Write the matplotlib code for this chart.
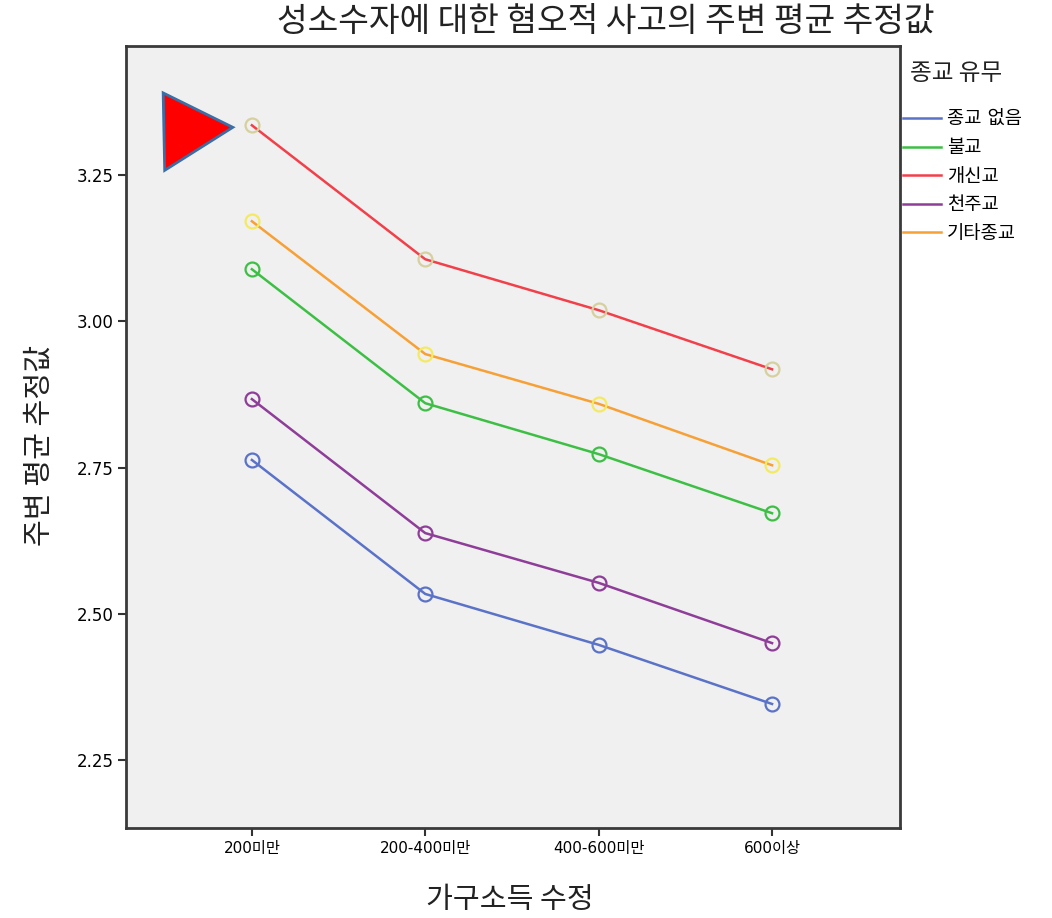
import matplotlib
matplotlib.use("Agg")
import matplotlib.pyplot as plt
from matplotlib.patches import Polygon

# data
income = ['200미만', '200-400미만', '400-600미만', '600이상']
groups = ['종교 없음', '불교', '개신교', '천주교', '기타종교']
no_religion = [2.763, 2.534, 2.447, 2.346]
buddhist = [3.089, 2.860, 2.773, 2.672]
protestant = [3.335, 3.106, 3.019, 2.918]
catholic = [2.867, 2.638, 2.553, 2.450]
other = [3.171, 2.944, 2.859, 2.754]
yticks = [2.25, 2.50, 2.75, 3.00, 3.25]

series = [no_religion, buddhist, protestant, catholic, other]
line_colors = ['#5a72c8', '#3dbf45', '#f2404a', '#8e3d98', '#f7a036']
marker_colors = ['#5a72c8', '#3dbf45', '#d6cf9e', '#8e3d98', '#f4ea62']

plt.rcParams['font.family'] = ['DejaVu Sans', 'Noto Sans CJK KR']

W, H = 1052, 918
fig = plt.figure(figsize=(W/100, H/100), dpi=100)
ax = fig.add_axes([126/W, 1-828/H, 774/W, 782/H])
ax.set_facecolor('#f0f0f0')

x = list(range(len(income)))
for name, vals, lc, mc in zip(groups, series, line_colors, marker_colors):
    ax.plot(x, vals, color=lc, lw=1.8, label=name, zorder=2)
    ax.plot(x, vals, ls='none', marker='o', ms=10, mfc='none', mec=mc, mew=1.6, zorder=3)

ax.set_xlim(-0.726, 3.738)
ax.set_ylim(2.134, 3.4705)
ax.set_xticks(x)
ax.set_xticklabels(income, fontsize=11)
ax.set_yticks(yticks)
ax.set_yticklabels(['%.2f' % v for v in yticks], fontsize=12)
ax.tick_params(length=6, width=1.5, color='#333333', pad=3)
for s in ax.spines.values():
    s.set_color('#3a3a3a')
    s.set_linewidth(2)

# red triangle marker annotation
tri = Polygon([[0.048, 0.940], [0.138, 0.896], [0.050, 0.841]], closed=True,
              transform=ax.transAxes, facecolor='#ff0000', edgecolor='#3a6ea5',
              lw=2, zorder=5, clip_on=False)
ax.add_patch(tri)

fig.text(606/W, 1-21/H, '성소수자에 대한 혐오적 사고의 주변 평균 추정값',
         ha='center', va='center', fontsize=24, color='#222222',
         family='Noto Sans CJK KR')
fig.text(510/W, 1-900/H, '가구소득 수정', ha='center', va='center',
         fontsize=21, color='#222222', family='Noto Sans CJK KR')
fig.text(40/W, 1-445/H, '주변 평균 추정값', ha='center', va='center',
         rotation=90, fontsize=21, color='#222222', family='Noto Sans CJK KR')

# legend, title drawn separately to match the wide gap
fig.text(910/W, 1-73/H, '종교 유무', ha='left', va='center', fontsize=17,
         color='#222222', family='Noto Sans CJK KR')
leg = ax.legend(loc='upper left', bbox_to_anchor=(903/W, 1-110/H),
                bbox_transform=fig.transFigure, frameon=False,
                fontsize=13.5, borderpad=0, borderaxespad=0,
                handlelength=2.0, handletextpad=0.35, labelspacing=0.5)

fig.savefig('out.png', dpi=100, facecolor='white')
